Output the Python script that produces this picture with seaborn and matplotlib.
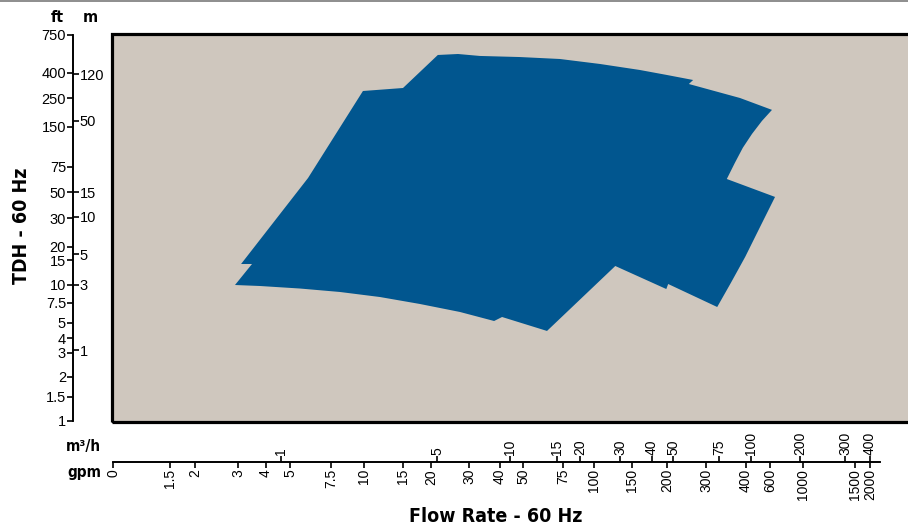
import numpy as np
import matplotlib
matplotlib.use("Agg")
import matplotlib.pyplot as plt
from matplotlib import font_manager
from matplotlib.patches import Rectangle
from matplotlib.lines import Line2D
import seaborn as sns

# Flow axis: tick values and their distance (px) from the panel's left edge
gpm_ticks = [0, 1.5, 2, 3, 4, 5, 7.5, 10, 15, 20, 30, 40, 50, 75, 100, 150,
             200, 300, 400, 600, 1000, 1500, 2000]
gpm_pos = [1, 58, 83, 126, 154, 178, 219, 252, 291, 319, 357, 388, 411, 451,
           482, 520, 555, 594, 634, 658, 691, 743, 758]
m3h_ticks = [1, 5, 10, 15, 20, 30, 40, 50, 75, 100, 200, 300, 400]
m3h_pos = [169, 325, 398, 445, 468, 508, 540, 561, 607, 639, 688, 733, 758]

# Head axis: tick values and their height (px) above the panel floor
ft_ticks = [1, 1.5, 2, 3, 4, 5, 7.5, 10, 15, 20, 30, 50, 75, 150, 250, 400, 750]
ft_pos = [1, 25, 45, 69, 84, 99, 119, 137, 162, 175, 204, 230, 255, 295, 324,
          349, 387]
m_ticks = [1, 3, 5, 10, 15, 50, 120]
m_pos = [72, 137, 168, 205, 230, 301, 348]

# Operating range outline (flow in gpm, head in ft)
range_gpm = [3.11, 6.10, 9.92, 15, 21.8, 27.1, 33.5, 48.7, 73.1, 108, 161, 200,
             267, 256, 385, 624, 533, 450, 392, 372, 352, 661, 517, 398, 362,
             328, 203, 199, 128, 65, 40.9, 38.1, 27.6, 18.0, 12.05, 8.18, 5.61,
             3.79, 2.93, 3.5]
range_ft = [14.2, 64, 292, 310, 566, 575, 557, 547, 529, 483, 428, 388, 358,
            334, 250, 209, 171, 137, 111, 82.5, 63, 46.2, 26.9, 16.2, 10.4,
            7.0, 10.2, 9.44, 13.8, 4.47, 5.75, 5.25, 6.38, 7.38, 8.33, 9.03,
            9.51, 9.86, 10, 14.2]

PANEL_W, PANEL_H = 808, 388          # panel size in px
BLUE = "#01568f"
SAND = "#cfc7be"


def piecewise(xp, fp):
    """Piecewise-linear map with linear extension past both ends."""
    xp = np.asarray(xp, float)
    fp = np.asarray(fp, float)
    lo = (fp[1] - fp[0]) / (xp[1] - xp[0])
    hi = (fp[-1] - fp[-2]) / (xp[-1] - xp[-2])

    def f(v):
        v = np.asarray(v, float)
        out = np.interp(v, xp, fp)
        out = np.where(v < xp[0], fp[0] + (v - xp[0]) * lo, out)
        out = np.where(v > xp[-1], fp[-1] + (v - xp[-1]) * hi, out)
        return out
    return f


def label(v):
    return f"{v:g}"


sns.set_style("white")
plt.rcParams["font.family"] = ["Liberation Sans", "DejaVu Sans"]
plt.rcParams["text.color"] = "black"

# a condensed bold face for the captions, if one is installed
CONDENSED = None
for f in font_manager.fontManager.ttflist:
    if f.name in ("Liberation Sans Narrow", "DejaVu Sans") and \
            ("Narrow" in f.name or f.stretch == "condensed") and \
            f.weight in ("bold", 700):
        CONDENSED = f.fname
        break


def title_props(size):
    if CONDENSED:
        return dict(fontproperties=font_manager.FontProperties(
            fname=CONDENSED, size=size), color="black")
    return dict(family="Liberation Sans", weight="bold", fontsize=size * 1.05,
                color="black")


W, H = 908, 531
fig = plt.figure(figsize=(W / 100, H / 100), dpi=100)
ax = fig.add_axes([112 / W, (H - 422) / H, PANEL_W / W, PANEL_H / H])
ax.set_facecolor(SAND)

# custom scales
gx_f, gx_i = piecewise(gpm_ticks, gpm_pos), piecewise(gpm_pos, gpm_ticks)
fy_f, fy_i = piecewise(ft_ticks, ft_pos), piecewise(ft_pos, ft_ticks)
ax.set_xscale("function", functions=(gx_f, gx_i))
ax.set_yscale("function", functions=(fy_f, fy_i))
ax.set_xlim(float(gx_i(0)), float(gx_i(PANEL_W)))
ax.set_ylim(float(fy_i(0)), float(fy_i(PANEL_H)))

ax.fill(range_gpm, range_ft, color=BLUE, lw=0, zorder=2)

# panel frame
ax.add_patch(Rectangle((0, 0), 1, 1, transform=ax.transAxes, fill=False,
                       ec="black", lw=2.3, zorder=5, clip_on=False))

xoff = -40 / PANEL_H
yoff = -39 / PANEL_W
for s in ("top", "right"):
    ax.spines[s].set_visible(False)
ax.spines["bottom"].set_position(("axes", xoff))
ax.spines["left"].set_position(("axes", yoff))
ax.spines["bottom"].set_bounds(0, float(gx_i(768)))
ax.spines["left"].set_bounds(1, 750)
for s in ("bottom", "left"):
    ax.spines[s].set_color("black")
    ax.spines[s].set_linewidth(1.2)

ax.set_xticks(gpm_ticks, [label(v) for v in gpm_ticks])
ax.set_yticks(ft_ticks, [label(v) for v in ft_ticks])
ax.minorticks_off()
ax.tick_params(axis="x", bottom=True, direction="out", length=4, width=1.2,
               pad=1, labelsize=10, labelrotation=90, colors="black")
ax.tick_params(axis="y", left=True, direction="out", length=4, width=1.2,
               pad=1, labelsize=10.5, colors="black")

# metric flow ticks above the same line
axt = ax.twiny()
axt.set_xscale("function", functions=(piecewise(m3h_ticks, m3h_pos),
                                      piecewise(m3h_pos, m3h_ticks)))
m_inv_x = piecewise(m3h_pos, m3h_ticks)
axt.set_xlim(float(m_inv_x(0)), float(m_inv_x(PANEL_W)))
for s in ("bottom", "left", "right"):
    axt.spines[s].set_visible(False)
axt.spines["top"].set_position(("axes", xoff))
axt.spines["top"].set_bounds(float(m_inv_x(1)), float(m_inv_x(768)))
axt.spines["top"].set_linewidth(1.2)
axt.spines["top"].set_color("black")
axt.set_xticks(m3h_ticks, [label(v) for v in m3h_ticks])
axt.minorticks_off()
axt.tick_params(axis="x", top=True, direction="out", length=4, width=1.2,
                pad=1, labelsize=10, labelrotation=90, colors="black")

# metric head ticks on the right of the head line
axr = ax.twinx()
axr.set_yscale("function", functions=(piecewise(m_ticks, m_pos),
                                      piecewise(m_pos, m_ticks)))
m_inv_y = piecewise(m_pos, m_ticks)
axr.set_ylim(float(m_inv_y(0)), float(m_inv_y(PANEL_H)))
for s in ("bottom", "left", "top"):
    axr.spines[s].set_visible(False)
axr.spines["right"].set_position(("axes", yoff))
axr.spines["right"].set_bounds(float(m_inv_y(1)), float(m_inv_y(387)))
axr.spines["right"].set_linewidth(1.2)
axr.spines["right"].set_color("black")
axr.set_yticks(m_ticks, [label(v) for v in m_ticks])
axr.minorticks_off()
axr.tick_params(axis="y", right=True, direction="out", length=4, width=1.2,
                pad=1, labelsize=10.5, colors="black")


# titles and unit captions
def px(x, y):
    return x / W, 1 - y / H


fig.text(*px(22, 226), "TDH - 60 Hz", rotation=90, ha="center", va="center",
         **title_props(14))
fig.text(*px(496, 517), "Flow Rate - 60 Hz", ha="center", va="center",
         **title_props(14))
fig.text(*px(57, 17), "ft", ha="center", va="center", **title_props(11.5))
fig.text(*px(90, 17), "m", ha="center", va="center", **title_props(11.5))
fig.text(*px(101, 446), "m³/h", ha="right", va="center", **title_props(11))
fig.text(*px(101, 472), "gpm", ha="right", va="center", **title_props(11))

# thin rule along the top edge
fig.add_artist(Line2D([0, 1], [1 - 0.8 / H, 1 - 0.8 / H], color="#7a7a7a",
                      lw=1.2, transform=fig.transFigure))

fig.savefig("out.png", dpi=100, facecolor="white")
